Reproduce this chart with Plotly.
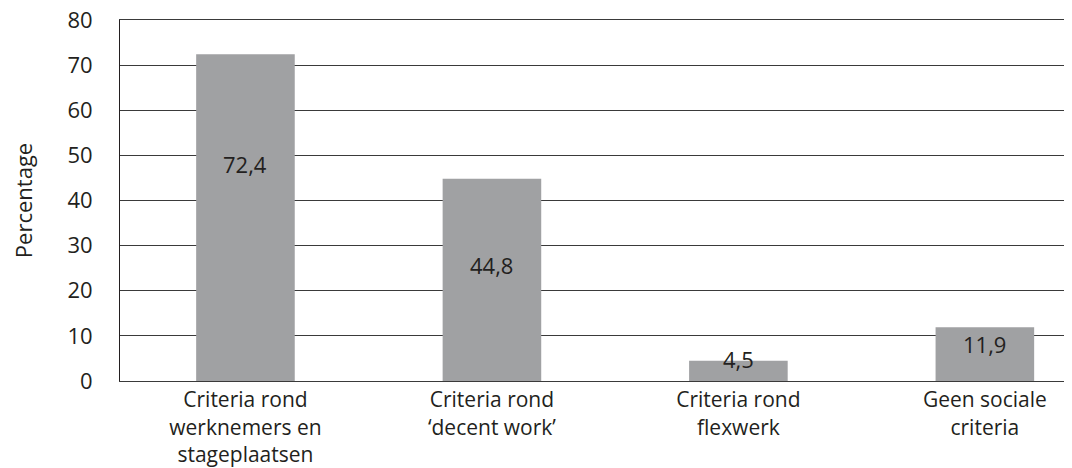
import plotly.graph_objects as go

categories = ["Criteria rond<br>werknemers en<br>stageplaatsen",
              "Criteria rond<br>‘decent work’",
              "Criteria rond<br>flexwerk",
              "Geen sociale<br>criteria"]
values = [72.4, 44.8, 4.5, 11.9]
value_labels = ["72,4", "44,8", "4,5", "11,9"]
label_y = [48, 25.6, 4.8, 8.1]
y_ticks = [0, 10, 20, 30, 40, 50, 60, 70, 80]

FONT = "Open Sans"
TXT = "#231f20"

fig = go.Figure()
fig.add_trace(go.Bar(
    x=list(range(len(categories))), y=values,
    marker=dict(color="#a0a1a3", line=dict(width=0)),
    width=0.4, hoverinfo="skip",
))
for i, (lab, ly) in enumerate(zip(value_labels, label_y)):
    fig.add_annotation(x=i, y=ly, text=lab, showarrow=False,
                       font=dict(family=FONT, size=22, color=TXT),
                       xref="x", yref="y")

fig.update_layout(
    width=1072, height=468,
    margin=dict(l=112, r=0, t=12, b=95),
    paper_bgcolor="white", plot_bgcolor="white",
    showlegend=False,
    font=dict(family=FONT, size=22, color=TXT),
)
fig.update_xaxes(
    tickmode="array", tickvals=list(range(len(categories))), ticktext=categories,
    range=[-0.509, 3.386], showgrid=False, zeroline=False, automargin=False,
    showline=True, mirror=True, linecolor="#3a3a3a", linewidth=1,
    ticks="", tickfont=dict(family=FONT, size=21, color=TXT),
)
fig.update_yaxes(
    range=[0, 80], tickvals=y_ticks, showgrid=True, gridcolor="#3a3a3a", gridwidth=1,
    zeroline=False, showline=True, linecolor="#231f20", linewidth=1, automargin=False,
    ticks="", ticklabelstandoff=22, ticklabeloverflow="allow",
    tickfont=dict(family=FONT, size=22, color=TXT),
    title=dict(text="Percentage", font=dict(family=FONT, size=22, color=TXT), standoff=30),
)
fig.write_html("out.html")
